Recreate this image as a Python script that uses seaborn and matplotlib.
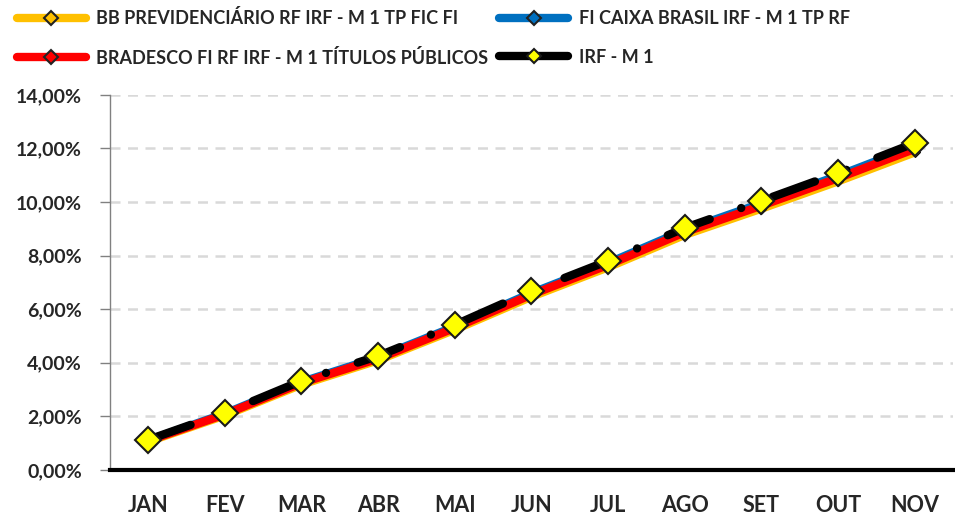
import numpy as np
import pandas as pd
import matplotlib
matplotlib.use("Agg")
import matplotlib.pyplot as plt
import seaborn as sns
from matplotlib.ticker import FuncFormatter

meses = ["JAN", "FEV", "MAR", "ABR", "MAI", "JUN", "JUL", "AGO", "SET", "OUT", "NOV"]
bb = [1.05, 2.03, 3.18, 4.09, 5.23, 6.46, 7.56, 8.77, 9.75, 10.77, 11.85]
caixa = [1.10, 2.10, 3.28, 4.20, 5.35, 6.60, 7.72, 8.95, 9.95, 10.98, 12.08]
bradesco = [1.08, 2.07, 3.24, 4.15, 5.30, 6.54, 7.65, 8.87, 9.86, 10.89, 11.98]
irf = [1.12, 2.13, 3.32, 4.25, 5.41, 6.68, 7.80, 9.03, 10.04, 11.08, 12.20]

nomes = ["BB PREVIDENCIÁRIO RF IRF - M 1 TP FIC FI",
         "FI CAIXA BRASIL IRF - M 1 TP RF",
         "BRADESCO FI RF IRF - M 1 TÍTULOS PÚBLICOS",
         "IRF - M 1"]

sns.set_style("white")
plt.rcParams['font.family'] = ['Lato', 'DejaVu Sans']
plt.rcParams['font.weight'] = 'bold'

fig = plt.figure(figsize=(9.55, 5.18), dpi=100)
ax = fig.add_axes([0.115, 0.093, 0.883, 0.724])

# linhas de grade tracejadas
for v in np.arange(2, 15, 2):
    ax.axhline(v, color="#d9d9d9", lw=1.8, dashes=(4, 3), zorder=0)

sns.lineplot(x=meses, y=bb, ax=ax, color="#ffc000", lw=6, marker="D", markersize=5,
             markerfacecolor="#ffc000", markeredgecolor="black", label=nomes[0],
             solid_capstyle="round", zorder=2)
sns.lineplot(x=meses, y=caixa, ax=ax, color="#0070c0", lw=6, marker="D", markersize=5,
             markerfacecolor="#0070c0", markeredgecolor="black", label=nomes[1],
             solid_capstyle="round", zorder=3)
sns.lineplot(x=meses, y=bradesco, ax=ax, color="#ff0000", lw=6, marker="D", markersize=5,
             markerfacecolor="#ff0000", markeredgecolor="black", label=nomes[2],
             solid_capstyle="round", zorder=4)
sns.lineplot(x=meses, y=irf, ax=ax, color="black", lw=6, marker="D", markersize=13,
             markerfacecolor="#ffff00", markeredgecolor="#1a1a1a", markeredgewidth=1.5,
             label=nomes[3], dashes=False, zorder=5)
linha = ax.get_lines()[-1]
linha.set_dashes((5.4, 4.0, 0.01, 4.0))
linha.set_dash_capstyle("round")

ax.set_xlim(-0.5, 10.5)
ax.set_ylim(0, 14)
ax.set_yticks(np.arange(0, 15, 2))
ax.yaxis.set_major_formatter(FuncFormatter(lambda v, p: f"{v:.2f}%".replace(".", ",")))
ax.set_xticks(range(len(meses)))
ax.set_xticklabels(meses)
ax.set_xticks(np.arange(-0.5, 11, 1), minor=True)
ax.tick_params(axis="x", which="major", length=0, pad=18, labelsize=15.5)
ax.tick_params(axis="x", which="minor", length=6, width=3, color="black", direction="out")
ax.tick_params(axis="y", length=7, width=1, color="#808080", labelsize=14, direction="out",
               left=True, pad=13)
for lab in ax.get_xticklabels() + ax.get_yticklabels():
    lab.set_fontweight("bold")

ax.spines["top"].set_visible(False)
ax.spines["right"].set_visible(False)
ax.spines["left"].set_color("#808080")
ax.spines["left"].set_linewidth(1)
ax.spines["bottom"].set_color("black")
ax.spines["bottom"].set_linewidth(3)
ax.set_xlabel("")
ax.set_ylabel("")

h, l = ax.get_legend_handles_labels()
if ax.get_legend():
    ax.get_legend().remove()
# legenda preenchida por coluna: BB, BRADESCO | CAIXA, IRF
order = [0, 2, 1, 3]
leg = fig.legend([h[i] for i in order], [l[i] for i in order], ncol=2, loc="upper left",
                 bbox_to_anchor=(17 / 955, 1 - 9 / 518), frameon=False,
                 prop={"weight": "bold", "size": 13, "family": "Lato"},
                 handlelength=3.8, handletextpad=0.6, columnspacing=0.6, labelspacing=1.2,
                 borderpad=0, borderaxespad=0)
for ln, idx in zip(leg.get_lines(), order):
    ln.set_linestyle("-")
    ln.set_solid_capstyle("round")
    ln.set_linewidth(6)
    ln.set_markersize(7)
    ln.set_markeredgewidth(1.5)
    if idx < 3:
        ln.set_markerfacecolor(ln.get_color())
        ln.set_markeredgecolor("#222222")

fig.savefig("out.png", dpi=100)
